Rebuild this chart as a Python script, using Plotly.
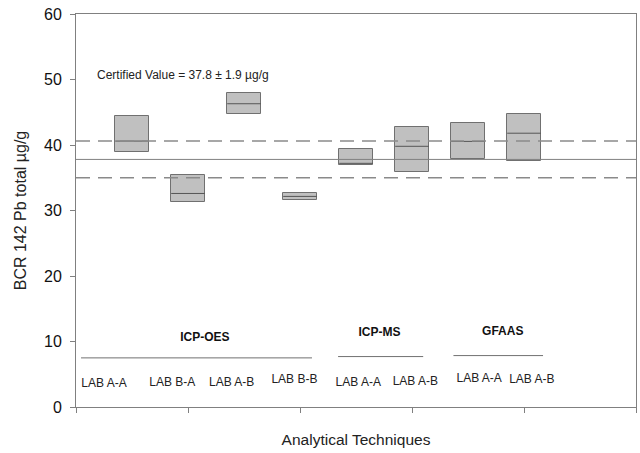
import plotly.graph_objects as go

# Box data (x position, lower, median, upper)
box_x = [0.5, 1.0, 1.5, 2.0, 2.5, 3.0, 3.5, 4.0]
box_low = [38.9, 31.3, 44.7, 31.6, 36.9, 35.9, 37.8, 37.5]
box_med = [40.6, 32.6, 46.3, 32.15, 37.2, 39.8, 40.55, 41.8]
box_high = [44.5, 35.4, 47.9, 32.7, 39.4, 42.8, 43.4, 44.8]

certified = 37.8
limit_upper = 40.6
limit_lower = 35.0

lab_labels = ["LAB A-A", "LAB B-A", "LAB A-B", "LAB B-B", "LAB A-A", "LAB A-B", "LAB A-A", "LAB A-B"]
lab_x = [0.25, 0.86, 1.39, 1.95, 2.52, 3.03, 3.6, 4.07]
lab_y = [3.5, 3.66, 3.66, 4.1, 3.7, 3.75, 4.3, 4.1]

groups = ["ICP-OES", "ICP-MS", "GFAAS"]
group_x = [1.15, 2.71, 3.81]
group_y = [10.6, 11.3, 11.45]
group_line_x0 = [0.045, 2.34, 3.37]
group_line_x1 = [2.107, 3.10, 4.17]
group_line_y = [7.5, 7.7, 7.85]

x_ticks = [0, 1, 2, 3, 4, 5]
y_ticks = [0, 10, 20, 30, 40, 50, 60]

fig = go.Figure()

# boxes as floating bars
fig.add_trace(go.Bar(
    x=box_x, y=[h - l for h, l in zip(box_high, box_low)], base=box_low,
    width=0.3, marker=dict(color="#c0c0c0", line=dict(color="#707070", width=1)),
    hoverinfo="skip", showlegend=False))

# median lines
mx, my = [], []
for x, m in zip(box_x, box_med):
    mx += [x - 0.15, x + 0.15, None]
    my += [m, m, None]
fig.add_trace(go.Scatter(x=mx, y=my, mode="lines", line=dict(color="#555555", width=1),
                         hoverinfo="skip", showlegend=False))

# reference lines
fig.add_trace(go.Scatter(x=[0, 5], y=[certified, certified], mode="lines",
                         line=dict(color="#808080", width=1), hoverinfo="skip", showlegend=False))
for v in (limit_upper, limit_lower):
    fig.add_trace(go.Scatter(x=[0, 5], y=[v, v], mode="lines",
                             line=dict(color="#8a8a8a", width=1.5, dash="14px,8px"),
                             hoverinfo="skip", showlegend=False))

# group underlines
gx, gy = [], []
for a, b, y in zip(group_line_x0, group_line_x1, group_line_y):
    gx += [a, b, None]
    gy += [y, y, None]
fig.add_trace(go.Scatter(x=gx, y=gy, mode="lines", line=dict(color="#707070", width=1),
                         hoverinfo="skip", showlegend=False))

# group labels
fig.add_trace(go.Scatter(x=group_x, y=group_y, mode="text", text=["<b>%s</b>" % g for g in groups],
                         textfont=dict(family="Liberation Sans, Arial", size=12, color="#111111"),
                         hoverinfo="skip", showlegend=False))
# lab labels
fig.add_trace(go.Scatter(x=lab_x, y=lab_y, mode="text", text=lab_labels,
                         textfont=dict(family="Liberation Sans, Arial", size=12, color="#222222"),
                         hoverinfo="skip", showlegend=False))

fig.add_annotation(x=0.17, y=50.7, xref="x", yref="y", text="Certified Value = 37.8 ± 1.9 µg/g",
                   showarrow=False, xanchor="left", yanchor="middle",
                   font=dict(family="Liberation Sans, Arial", size=12, color="#222222"))

fig.update_layout(
    width=640, height=453,
    margin=dict(l=76, r=4, t=14, b=46),
    paper_bgcolor="white", plot_bgcolor="white",
    font=dict(family="Liberation Sans, Arial", color="#222222"),
    showlegend=False,
    bargap=0,
)
fig.update_xaxes(range=[0, 5], tickvals=x_ticks, ticktext=[""] * len(x_ticks),
                 ticks="outside", ticklen=5, tickcolor="#808080",
                 showline=True, linecolor="#808080", linewidth=1, mirror=True,
                 showgrid=False, zeroline=False,
                 title=dict(text="Analytical Techniques", font=dict(size=15.5), standoff=19))
fig.update_yaxes(range=[0, 60], tickvals=y_ticks,
                 ticks="outside", ticklen=5, tickcolor="#808080",
                 tickfont=dict(size=16, color="#111111"), ticklabelstandoff=5,
                 showline=True, linecolor="#808080", linewidth=1, mirror=True,
                 showgrid=False, zeroline=False,
                 title=dict(text="BCR 142 Pb total µg/g", font=dict(size=16), standoff=13))

fig.write_html("out.html")
